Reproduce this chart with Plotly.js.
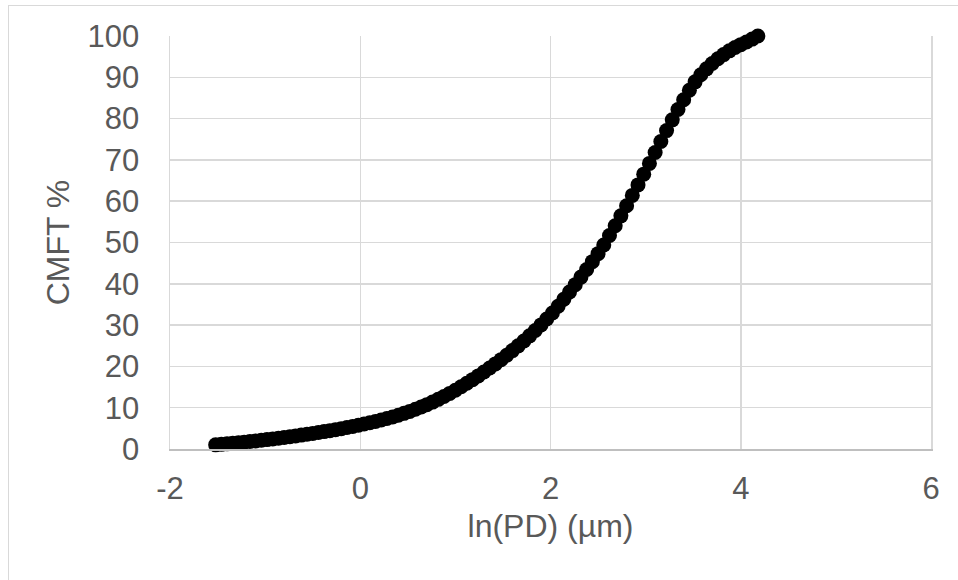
<!DOCTYPE html>
<html>
<head>
<meta charset="utf-8">
<script src="https://cdn.plot.ly/plotly-3.0.1.min.js"></script>
<style>
  html, body { margin: 0; padding: 0; background: #ffffff; }
  #wrap { position: relative; width: 958px; height: 580px; overflow: hidden; }
  #chart { position: absolute; left: 0; top: 0; width: 958px; height: 580px; }
  #frame { position: absolute; left: 8px; top: 5px; width: 1200px; height: 1200px;
           border: 1.5px solid #d9d9d9; box-sizing: border-box; pointer-events: none; }
</style>
</head>
<body>
<div id="wrap">
  <div id="chart"></div>
  <div id="frame"></div>
</div>
<script>
// ln(PD) in µm
const lnPD = [
  -1.52, -1.46, -1.40, -1.34, -1.28, -1.22, -1.16, -1.10, -1.04, -0.98,
  -0.92, -0.86, -0.80, -0.74, -0.68, -0.62, -0.56, -0.50, -0.44, -0.38,
  -0.32, -0.26, -0.20, -0.14, -0.08, -0.02, 0.04, 0.10, 0.16, 0.22,
  0.28, 0.34, 0.40, 0.46, 0.52, 0.58, 0.64, 0.70, 0.76, 0.82,
  0.88, 0.94, 1.00, 1.06, 1.12, 1.18, 1.24, 1.30, 1.36, 1.42,
  1.48, 1.54, 1.60, 1.66, 1.72, 1.78, 1.84, 1.90, 1.96, 2.02,
  2.08, 2.14, 2.20, 2.26, 2.32, 2.38, 2.44, 2.50, 2.56, 2.62,
  2.68, 2.74, 2.80, 2.86, 2.92, 2.98, 3.04, 3.10, 3.16, 3.22,
  3.28, 3.34, 3.40, 3.46, 3.52, 3.58, 3.64, 3.70, 3.76, 3.82,
  3.88, 3.94, 4.00, 4.06, 4.12, 4.18
];
// cumulative mass fraction (%)
const cmft = [
  1.00, 1.12, 1.25, 1.38, 1.52, 1.66, 1.81, 1.96, 2.12, 2.28,
  2.45, 2.62, 2.80, 2.98, 3.17, 3.37, 3.57, 3.78, 3.99, 4.21,
  4.44, 4.68, 4.93, 5.19, 5.46, 5.74, 6.04, 6.35, 6.67, 7.01,
  7.37, 7.75, 8.18, 8.63, 9.11, 9.62, 10.16, 10.74, 11.36, 12.02,
  12.72, 13.46, 14.24, 15.06, 15.91, 16.79, 17.70, 18.64, 19.61, 20.61,
  21.64, 22.71, 23.82, 24.97, 26.16, 27.40, 28.70, 30.05, 31.46, 32.93,
  34.55, 36.25, 38.00, 39.80, 41.62, 43.47, 45.36, 47.30, 49.40, 51.70,
  54.05, 56.45, 58.90, 61.40, 63.95, 66.55, 69.15, 71.80, 74.45, 77.10,
  79.70, 82.20, 84.55, 86.85, 88.90, 90.60, 92.05, 93.35, 94.50, 95.50,
  96.40, 97.20, 97.90, 98.55, 99.25, 100.00
];
const xTicks = [-2, 0, 2, 4, 6];
const yTicks = [0, 10, 20, 30, 40, 50, 60, 70, 80, 90, 100];
const xTitle = 'ln(PD) (µm)';
const yTitle = 'CMFT %';

const fontFam = '"Liberation Sans", Arial, sans-serif';
const txtColor = '#595959';

Plotly.newPlot('chart', [{
  type: 'scatter',
  mode: 'markers',
  x: lnPD,
  y: cmft,
  marker: { color: '#000000', size: 15, line: { width: 0 } },
  hoverinfo: 'none',
  cliponaxis: false
}], {
  width: 958,
  height: 580,
  margin: { l: 170, r: 27, t: 36, b: 131, pad: 0 },
  paper_bgcolor: 'rgba(0,0,0,0)',
  plot_bgcolor: '#ffffff',
  showlegend: false,
  font: { family: fontFam, color: txtColor, size: 31 },
  xaxis: {
    range: [-2, 6],
    tickmode: 'array',
    tickvals: xTicks,
    ticktext: xTicks.map(String),
    showgrid: true,
    gridcolor: '#d9d9d9',
    gridwidth: 1.5,
    zeroline: false,
    showline: true,
    linecolor: '#bfbfbf',
    linewidth: 1.5,
    ticks: '',
    ticklabelstandoff: 11,
    tickfont: { family: fontFam, size: 31, color: txtColor },
    title: { text: xTitle, font: { family: fontFam, size: 32, color: txtColor }, standoff: 10 }
  },
  yaxis: {
    range: [0, 100],
    tickmode: 'array',
    tickvals: yTicks,
    ticktext: yTicks.map(String),
    showgrid: true,
    gridcolor: '#d9d9d9',
    gridwidth: 1.5,
    zeroline: false,
    showline: true,
    mirror: true,
    linecolor: '#d9d9d9',
    linewidth: 1.5,
    ticks: '',
    ticklabelstandoff: 23,
    tickfont: { family: fontFam, size: 31, color: txtColor },
    title: { text: yTitle, font: { family: fontFam, size: 32, color: txtColor }, standoff: 8 }
  }
}, { displayModeBar: false, staticPlot: true });
</script>
</body>
</html>
